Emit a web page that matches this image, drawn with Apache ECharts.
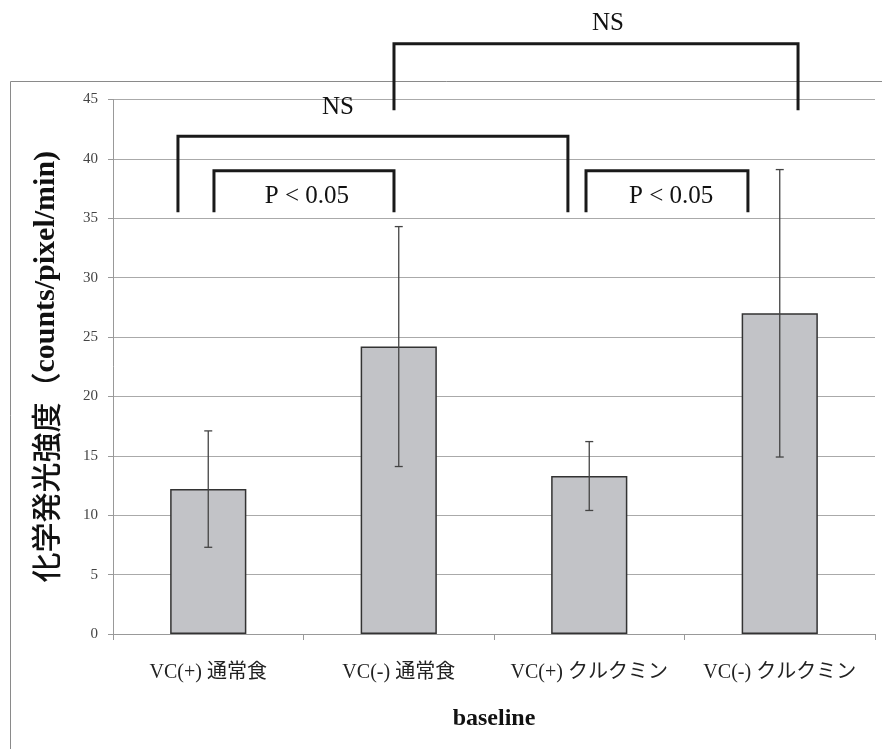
<!DOCTYPE html>
<html><head><meta charset="utf-8">
<script src="https://cdn.jsdelivr.net/npm/echarts@6/dist/echarts.min.js"></script>
<style>html,body{margin:0;padding:0;background:#fff}#c{width:882px;height:749px}</style>
</head><body><div id="c"></div>
<script>
var categories = ['VC(+) 通常食', 'VC(-) 通常食', 'VC(+) クルクミン', 'VC(-) クルクミン'];
var means = [12.2, 24.2, 13.3, 27.0];
var errors = [4.9, 10.1, 2.9, 12.1];
var yTicks = [0, 5, 10, 15, 20, 25, 30, 35, 40, 45];
// significance brackets: [xStart, xEnd, yTop, yBottomLeft, yBottomRight] in category-index / value units
var brackets = [
  [0.975, 3.096, 49.7, 44.1, 44.1],
  [-0.159, 1.888, 41.9, 35.5, 35.5],
  [0.030, 0.975, 39.0, 35.5, 35.5],
  [1.983, 2.833, 39.0, 35.5, 35.5]
];
var bracketLabels = ['NS', 'NS', 'P < 0.05', 'P < 0.05'];
var labelPos = [[2.098, 51.4], [0.681, 44.3], [0.518, 36.8], [2.43, 36.8]];

var serif = '"Liberation Serif","DejaVu Serif","Noto Sans CJK JP",serif';
var chart = echarts.init(document.getElementById('c'), null, {renderer: 'canvas'});

var errData = means.map(function (m, i) { return [i, m - errors[i], m + errors[i]]; });

chart.setOption({
  animation: false,
  backgroundColor: '#fff',
  graphic: [{
    type: 'rect', x: 10.5, y: 81.5, shape: {x: 0, y: 0, width: 900, height: 700},
    style: {fill: 'none', stroke: '#8a8a8a', lineWidth: 1}, z: 0
  }],
  grid: {left: 113, right: 7, top: 99.5, bottom: 115, containLabel: false},
  xAxis: [{
    type: 'category', data: categories,
    axisLine: {onZero: false, lineStyle: {color: '#999', width: 1}},
    axisTick: {show: true, length: 6, interval: 0, lineStyle: {color: '#999'}},
    axisLabel: {fontFamily: serif, fontSize: 20, color: '#222', margin: 29, interval: 0, hideOverlap: false},
    name: 'baseline', nameLocation: 'middle', nameGap: 73,
    nameTextStyle: {fontFamily: serif, fontSize: 24, color: '#111', fontWeight: 'bold'}
  }, {
    type: 'value', min: -0.5, max: 3.5, show: false
  }],
  yAxis: {
    type: 'value', min: 0, max: 45, interval: 5,
    axisLine: {show: true, onZero: false, lineStyle: {color: '#999'}},
    axisTick: {show: true, length: 5, lineStyle: {color: '#999'}},
    splitLine: {lineStyle: {color: '#aaa', width: 1}},
    axisLabel: {fontFamily: serif, fontSize: 15, color: '#444', margin: 15,
      formatter: function (v) { return yTicks.indexOf(v) >= 0 ? String(v) : ''; }},
    name: '{jp|化学発光強度（}{en|counts/pixel/min)}', nameLocation: 'middle', nameGap: 52,
    nameTextStyle: {fontFamily: serif, fontSize: 30, color: '#111',
      rich: {
        jp: {fontFamily: '"Noto Sans CJK JP",sans-serif', fontSize: 30, fontWeight: 500, color: '#111'},
        en: {fontFamily: serif, fontSize: 30, fontWeight: 'bold', color: '#111'}
      }}
  },
  series: [{
    type: 'bar', data: means, barWidth: '40%', xAxisIndex: 0,
    itemStyle: {color: '#c2c3c7', borderColor: '#333', borderWidth: 1.5},
    z: 2
  }, {
    type: 'custom', xAxisIndex: 0, data: errData, z: 3,
    renderItem: function (params, api) {
      var x = api.value(0);
      var lo = api.coord([x, api.value(1)]);
      var hi = api.coord([x, api.value(2)]);
      var c = 4;
      var st = {stroke: '#444', lineWidth: 1.3};
      return {type: 'group', children: [
        {type: 'line', shape: {x1: lo[0], y1: lo[1], x2: hi[0], y2: hi[1]}, style: st},
        {type: 'line', shape: {x1: lo[0] - c, y1: lo[1], x2: lo[0] + c, y2: lo[1]}, style: st},
        {type: 'line', shape: {x1: hi[0] - c, y1: hi[1], x2: hi[0] + c, y2: hi[1]}, style: st}
      ]};
    }
  }, {
    type: 'custom', xAxisIndex: 1, clip: false, z: 5,
    data: brackets.map(function (b, i) { return b.concat([i]); }),
    renderItem: function (params, api) {
      var x1 = api.value(0), x2 = api.value(1), yt = api.value(2), yb1 = api.value(3), yb2 = api.value(4);
      var i = api.value(5);
      var a = api.coord([x1, yb1]), b = api.coord([x1, yt]), c = api.coord([x2, yt]), d = api.coord([x2, yb2]);
      var lp = api.coord(labelPos[i]);
      return {type: 'group', children: [
        {type: 'polyline', shape: {points: [a, b, c, d]}, style: {stroke: '#1a1a1a', lineWidth: 3, fill: 'none', lineJoin: 'miter'}},
        {type: 'text', x: lp[0], y: lp[1], style: {text: bracketLabels[i], fontFamily: serif, fontSize: 25, fill: '#111', align: 'center', verticalAlign: 'middle'}}
      ]};
    }
  }]
});
</script></body></html>
